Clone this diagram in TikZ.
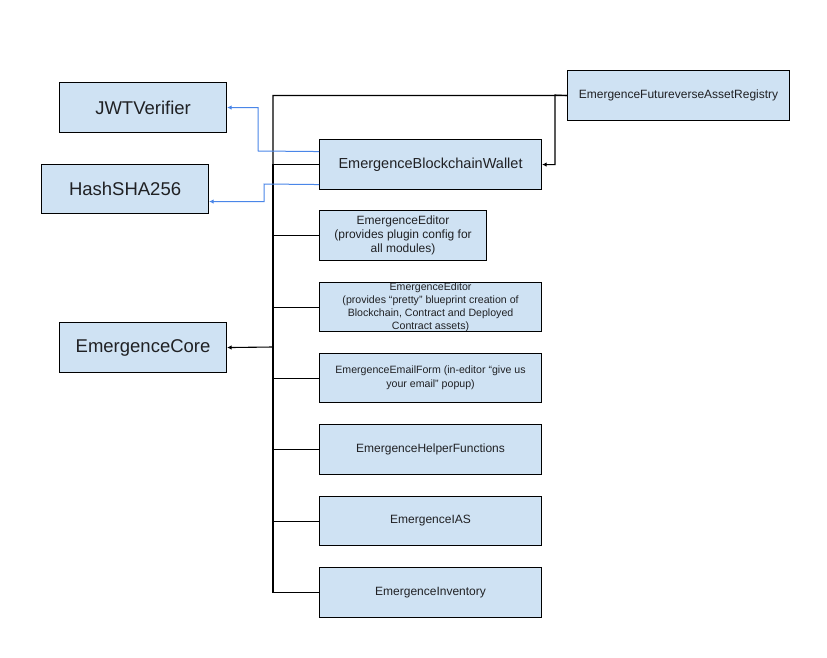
\documentclass[tikz,border=0pt]{standalone}
\usepackage{fontspec}
\setmainfont{Liberation Sans}
\usetikzlibrary{arrows.meta}
\definecolor{boxfill}{HTML}{CFE2F3}
\definecolor{bluearrow}{HTML}{4A86E8}
\definecolor{txt}{HTML}{202124}
\begin{document}
\begin{tikzpicture}[x=1pt,y=-1pt,
  box/.style={draw=black,line width=1.1pt,fill=boxfill,text=txt,inner sep=2pt,align=center,anchor=north west},
  conn/.style={draw=black,line width=1.1pt},
  bconn/.style={draw=bluearrow,line width=1pt},
  tip/.style={-{Latex[length=4.5pt,width=4.5pt]}}]
\useasboundingbox[fill=white] (0,0) rectangle (827,658);
% boxes
\node[box,minimum width=167pt,minimum height=50pt,font=\fontsize{18.5}{22}\selectfont] (jwt) at (59,82) {JWTVerifier};
\node[box,minimum width=167pt,minimum height=49pt,font=\fontsize{18.5}{22}\selectfont] (hash) at (41,164) {HashSHA256};
\node[box,minimum width=167pt,minimum height=50pt,font=\fontsize{18.5}{22}\selectfont] (core) at (59,322) {EmergenceCore};
\node[box,minimum width=222pt,minimum height=50pt,font=\fontsize{12}{14}\selectfont] (reg) at (567,70) {EmergenceFutureverseAssetRegistry};
\node[box,minimum width=222pt,minimum height=50pt,font=\fontsize{14.5}{17}\selectfont] (wallet) at (319,139) {EmergenceBlockchainWallet};
\node[box,minimum width=167pt,minimum height=50pt,font=\fontsize{12}{14}\selectfont] (ed1) at (319,210) {EmergenceEditor\\(provides plugin config for\\all modules)};
\node[box,minimum width=222pt,minimum height=49pt,inner sep=0pt,font=\fontsize{10.6}{13}\selectfont] (ed2) at (319,282) {EmergenceEditor\\(provides “pretty” blueprint creation of\\Blockchain, Contract and Deployed\\Contract assets)};
\node[box,minimum width=222pt,minimum height=49pt,font=\fontsize{10.6}{14}\selectfont] (email) at (319,353) {EmergenceEmailForm (in-editor “give us\\your email” popup)};
\node[box,minimum width=222pt,minimum height=50pt,font=\fontsize{12}{14}\selectfont] (help) at (319,424) {EmergenceHelperFunctions};
\node[box,minimum width=222pt,minimum height=49pt,font=\fontsize{12}{14}\selectfont] (ias) at (319,496) {EmergenceIAS};
\node[box,minimum width=222pt,minimum height=50pt,font=\fontsize{12}{14}\selectfont] (inv) at (319,567) {EmergenceInventory};
% helper coordinates
\coordinate (tr) at (273,347);
\coordinate (rw) at (555,95);
\coordinate (j1) at (258,151);
\coordinate (h1) at (264,184);
% black connectors to core
\draw[conn,tip] (reg.west) -| (tr) -- (core.east);
\draw[conn] (wallet.west) -| (tr);
\draw[conn] (ed1.west) -| (tr);
\draw[conn] (ed2.west) -| (tr);
\draw[conn] (email.west) -| (tr);
\draw[conn] (help.west) -| (tr);
\draw[conn] (ias.west) -| (tr);
\draw[conn] (inv.west) -| (tr);
% registry to wallet
\draw[conn,tip] (reg.west) -- (rw) |- (wallet.east);
% blue connectors
\draw[bconn,tip] ([yshift=13pt]wallet.west) -- (j1) |- (jwt.east);
\draw[bconn,tip] ([yshift=-20pt]wallet.west) -- (h1) |- ([yshift=-12.5pt]hash.east);
\end{tikzpicture}
\end{document}
